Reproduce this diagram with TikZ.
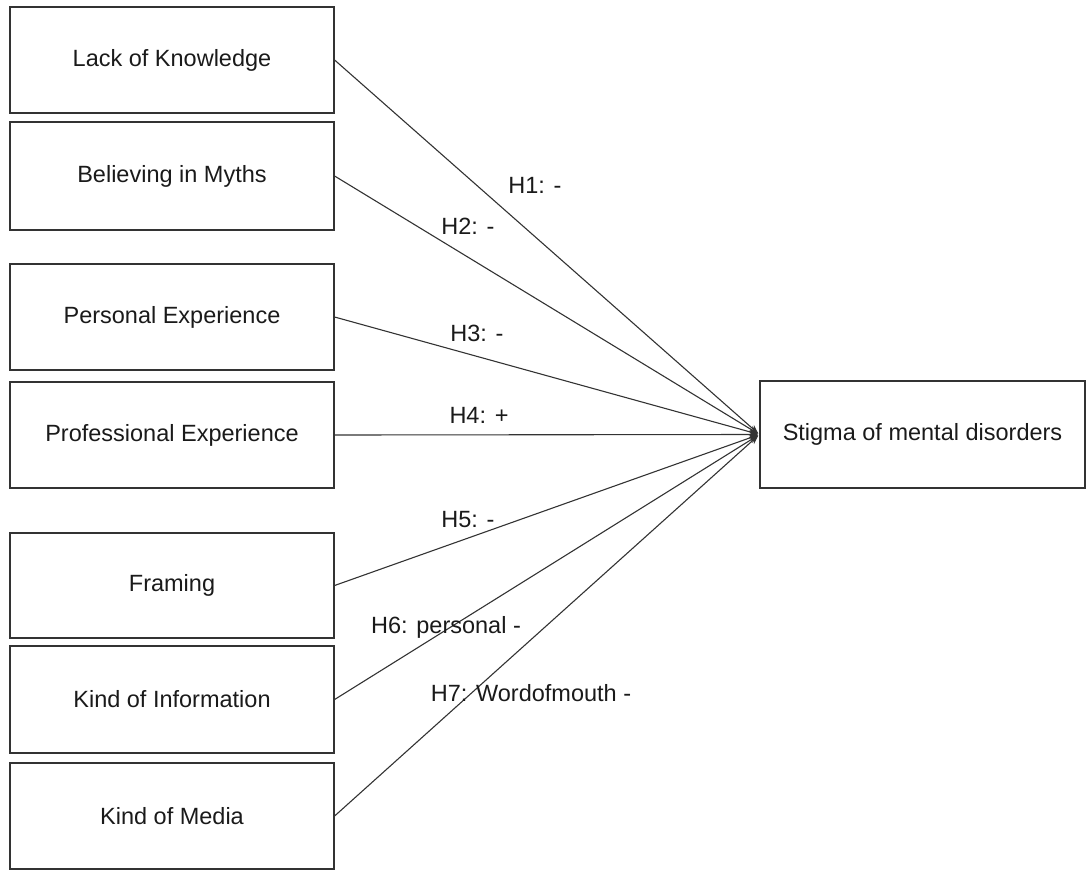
\documentclass[tikz,border=0pt]{standalone}
\usepackage{fontspec}
\setmainfont{Liberation Sans}
\usetikzlibrary{arrows.meta}
\definecolor{ink}{HTML}{1A1A1A}
\definecolor{edge}{HTML}{333333}
\begin{document}
\begin{tikzpicture}[x=1pt,y=-1pt,
  every node/.style={font=\fontsize{23.5}{27}\selectfont, text=ink},
  factor/.style={draw=edge, line width=1.2pt, rectangle, inner sep=0pt, minimum width=324pt},
  link/.style={draw=edge, line width=1.1pt, -{Stealth[length=9pt,width=7pt]}, shorten >=1.5pt},
  hyp/.style={inner sep=0pt}]
\useasboundingbox (0,0) rectangle (1087,870);
\node[factor, minimum height=106pt] (b1) at (172,60) {Lack of Knowledge};
\node[factor, minimum height=108pt] (b2) at (172,176) {Believing in Myths};
\node[factor, minimum height=106pt] (b3) at (172,317) {Personal Experience};
\node[factor, minimum height=106pt] (b4) at (172,435) {Professional Experience};
\node[factor, minimum height=105pt] (b5) at (172,585.5) {Framing};
\node[factor, minimum height=107pt] (b6) at (172,699.5) {Kind of Information};
\node[factor, minimum height=106pt] (b7) at (172,816) {Kind of Media};
\node[factor, minimum width=325pt, minimum height=107pt] (s) at (922.5,434.5) {Stigma of mental disorders};
\foreach \b in {b1,b2,b3,b4,b5,b6,b7} {\draw[link] (\b.east) -- (s.west);}
\node[hyp] (h1) at (535,185) {H1: -};
\node[hyp] (h2) at (468,226) {H2: -};
\node[hyp] (h3) at (477,333) {H3: -};
\node[hyp] (h4) at (479,415) {H4: +};
\node[hyp] (h5) at (468,520) {H5: -};
\node[hyp] (h6) at (446,627) {H6: personal -};
\node[hyp] (h7) at (531,693) {H7: Wordofmouth -};
\end{tikzpicture}
\end{document}
